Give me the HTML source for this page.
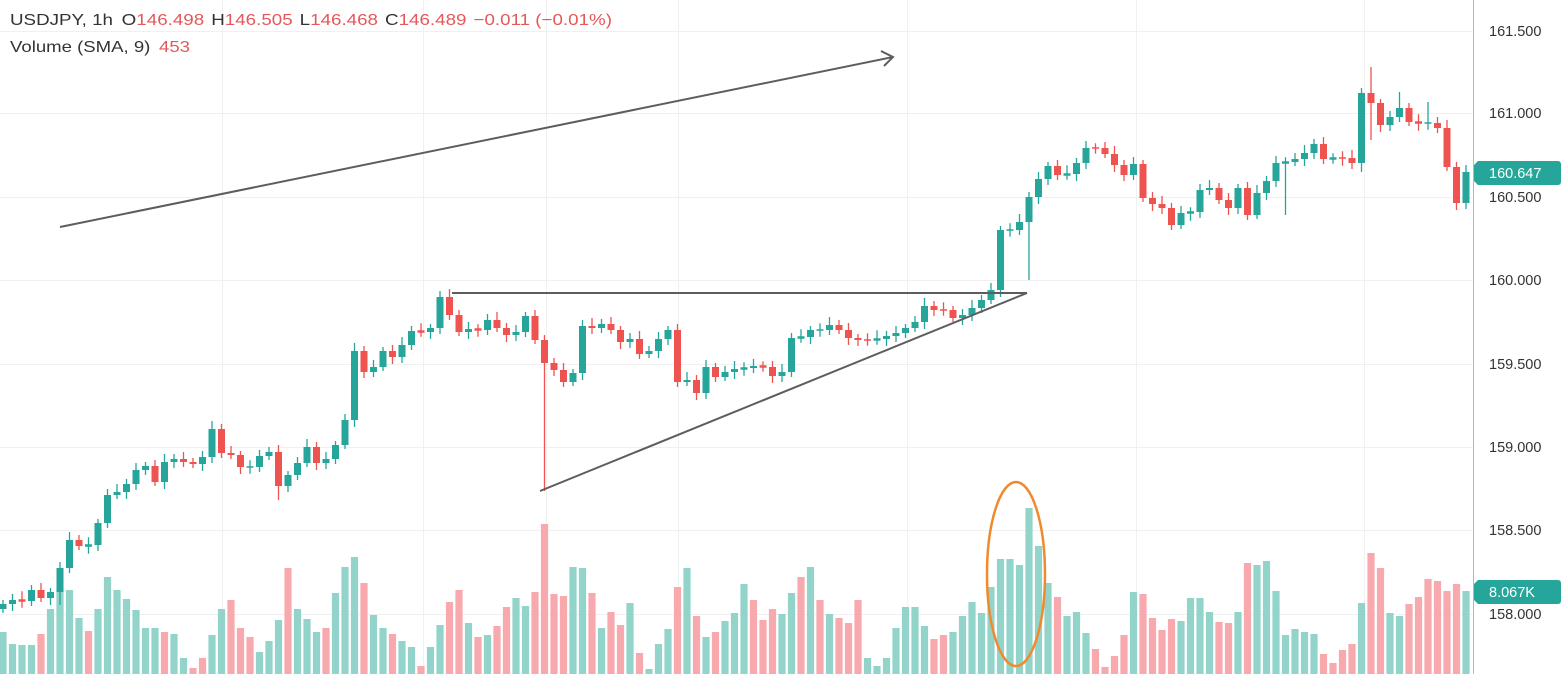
<!DOCTYPE html>
<html><head><meta charset="utf-8"><style>
html,body{margin:0;padding:0;background:#fff;width:1564px;height:674px;overflow:hidden}
svg{display:block}
</style></head><body>
<svg id="s" width="1564" height="674" xmlns="http://www.w3.org/2000/svg" font-family="Liberation Sans, sans-serif">
<g id="grid" stroke="#f0f0f0" stroke-width="1"></g>
<g id="vol"></g>
<g id="cnd"></g>
<g fill="none" stroke="#5d5d5d" stroke-width="2">
<line x1="60" y1="227" x2="893" y2="57"/>
<polyline points="881,51 893,57 884,66"/>
<line x1="452" y1="293" x2="1027" y2="293"/>
<line x1="540" y1="491" x2="1027" y2="293"/>
</g>
<ellipse cx="1016" cy="574" rx="29" ry="92" fill="none" stroke="#f08a2e" stroke-width="2.5"/>
<line x1="1473.5" y1="0" x2="1473.5" y2="674" stroke="#b8b8b8" stroke-width="1"/>
<g font-size="14.5" fill="#333">
<text x="1489" y="36">161.500</text>
<text x="1489" y="118">161.000</text>
<text x="1489" y="202">160.500</text>
<text x="1489" y="285">160.000</text>
<text x="1489" y="369">159.500</text>
<text x="1489" y="452">159.000</text>
<text x="1489" y="535">158.500</text>
<text x="1489" y="619">158.000</text>
</g>
<path d="M1474,165 l4,-4 h80 a3,3 0 0 1 3,3 v18 a3,3 0 0 1 -3,3 h-80 l-4,-4z" fill="#26a69a"/>
<text x="1489" y="178" font-size="14.5" fill="#fff">160.647</text>
<path d="M1474,584 l4,-4 h80 a3,3 0 0 1 3,3 v18 a3,3 0 0 1 -3,3 h-80 l-4,-4z" fill="#26a69a"/>
<text x="1489" y="597" font-size="14.5" fill="#fff">8.067K</text>
<text x="10" y="25" font-size="16" fill="#333" textLength="602" lengthAdjust="spacingAndGlyphs">USDJPY, 1h <tspan dx="3">O</tspan><tspan fill="#e4575a">146.498</tspan><tspan dx="6">H</tspan><tspan fill="#e4575a">146.505</tspan><tspan dx="6">L</tspan><tspan fill="#e4575a">146.468</tspan><tspan dx="6">C</tspan><tspan fill="#e4575a">146.489</tspan><tspan dx="6" fill="#e4575a">−0.011 (−0.01%)</tspan></text>
<text x="10" y="52" font-size="16" fill="#333" textLength="180" lengthAdjust="spacingAndGlyphs">Volume (SMA, 9) <tspan dx="3" fill="#e4575a">453</tspan></text>
</svg>
<script>
var NS="http://www.w3.org/2000/svg";
function el(p,t,a){var e=document.createElementNS(NS,t);for(var k in a)e.setAttribute(k,a[k]);p.appendChild(e);return e;}
var g=document.getElementById('grid');
[31,113,197,280,364,447,530,614].forEach(function(y){el(g,'line',{x1:0,x2:1473,y1:y+.5,y2:y+.5});});
[222,423,546,678,907,1136,1364].forEach(function(x){el(g,'line',{x1:x+.5,x2:x+.5,y1:0,y2:674});});
var closes=[604,600,601,590,598,592,568,540,546,545,523,495,492,484,470,466,482,462,459,462,464,457,429,453,455,467,467,456,452,486,475,463,447,463,459,445,420,
351,372,367,351,357,345,331,332,328,297,315,332,329,330,320,328,335,332,316,340,363,370,382,373,326,328,324,330,342,339,354,351,339,330,382,380,393,367,377,372,369,
368,366,367,376,372,338,337,330,330,325,330,338,340,340,339,336,333,328,322,306,310,310,318,315,308,300,290,
230,230,222,197,179,166,175,174,163,148,148,154,165,175,164,198,204,208,225,213,212,190,188,200,208,188,215,193,181,163,162,159,153,144,159,158,158,163,93,103,125,117,108,122,123,123,128,167,203,172];
var vols=[632,644,645,645,-634,609,590,590,618,-631,609,577,590,599,610,628,628,-632,634,658,-668,-658,635,609,-600,-628,-637,652,641,620,-568,609,619,632,-628,593,567,557,
-583,615,628,-634,641,647,-666,647,625,-602,-590,623,-637,635,-626,-607,598,606,-592,-524,-594,-596,567,568,-593,628,-612,-625,603,-653,669,644,629,-587,568,-616,637,-632,621,613,584,-600,
-620,-609,614,593,-577,567,-600,614,-618,-623,-600,658,666,658,628,607,607,626,-639,-635,632,616,602,613,587,559,559,565,508,546,583,-597,616,612,633,-649,-667,-656,-635,592,-594,-618,-630,
-619,621,598,598,612,-622,-623,612,-563,565,561,591,635,629,632,634,-654,-663,-650,-644,603,-553,-568,613,616,-604,-597,-579,-581,-591,-584,591];
var lows={57:491,29:500,108:280,6:605,135:215,143:172,144:140};
var highs={144:67,147:92,150:102,27:450,57:335};
var sp=9.5,x0=3;
var V=document.getElementById('vol'),C=document.getElementById('cnd');
vols.forEach(function(v,i){var x=x0+i*sp;var y=Math.abs(v);
el(V,'rect',{x:(x-3.6).toFixed(1),y:y,width:7.2,height:674-y,fill:v<0?'#f7a9ad':'#93d4ca'});});
var prev=609;
closes.forEach(function(c,i){var o=prev;prev=c;var x=x0+i*sp;
var up=c<o||(c==o&&i%2==0);var col=up?'#26a69a':'#ef5350';
var top=Math.min(o,c),bot=Math.max(o,c);if(bot-top<1.5){top-=0.75;bot+=0.75;}
var hi=highs[i]!==undefined?highs[i]:top-4-(i*7%5);var lo=lows[i]!==undefined?lows[i]:bot+4+(i*3%4);
el(C,'line',{x1:x,x2:x,y1:hi,y2:lo,stroke:col,'stroke-width':1.3});
el(C,'rect',{x:(x-3.5).toFixed(1),y:top,width:7,height:bot-top,fill:col});});
</script>
</body></html>
